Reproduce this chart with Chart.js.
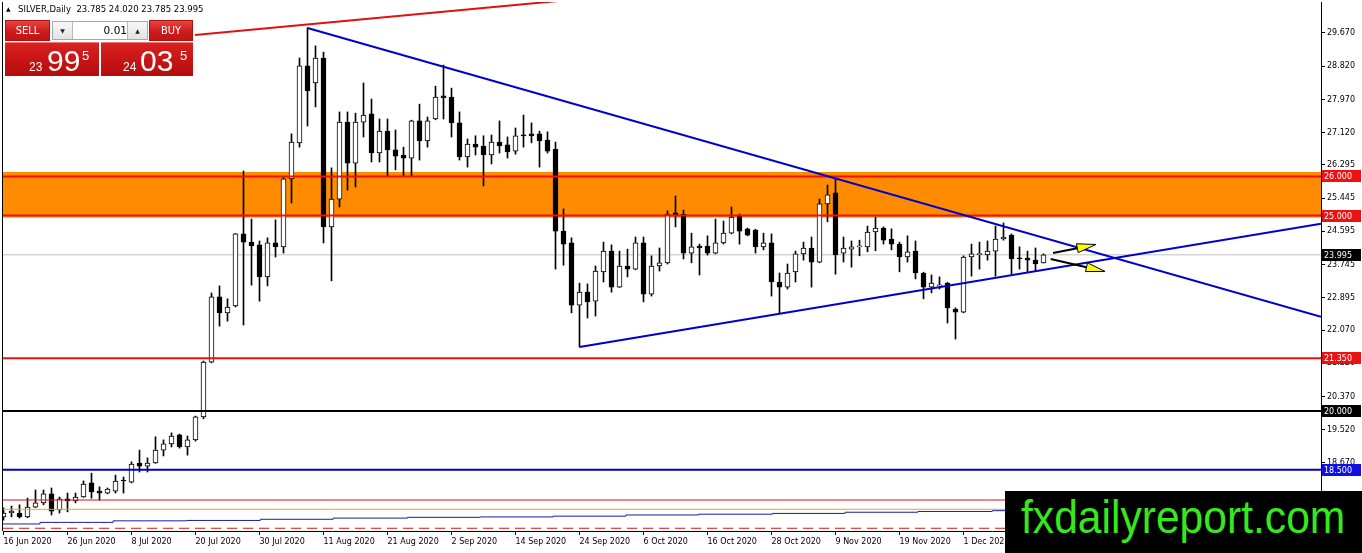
<!DOCTYPE html>
<html><head><meta charset="utf-8">
<script src="https://cdn.jsdelivr.net/npm/chart.js@4.4.0/dist/chart.umd.min.js"></script>
<style>
html,body{margin:0;padding:0;background:#fff;}
#wrap{position:relative;width:1362px;height:553px;overflow:hidden;background:#fff;}
canvas{position:absolute;left:0;top:0;}
#tri{position:absolute;left:6px;top:6px;font:6px 'DejaVu Sans',sans-serif;color:#000;line-height:6px;}
#title{position:absolute;left:18px;top:4px;font:8.5px 'DejaVu Sans',sans-serif;color:#000;white-space:pre;line-height:11px;}
.btn{position:absolute;top:20px;height:21px;background:linear-gradient(#e8453f,#cc1c1c 55%,#c21515);color:#fff;font:11px 'DejaVu Sans Condensed',sans-serif;display:flex;align-items:center;justify-content:center;box-sizing:border-box;border:1px solid #b01010;}
#sell{left:5px;width:45px;}
#buy{left:149px;width:44px;}
#lot{position:absolute;left:52px;top:21px;width:96px;height:19px;box-sizing:border-box;border:1px solid #a8a8a8;background:#fff;}
.arr{position:absolute;top:0;width:19px;height:17px;background:linear-gradient(#f8f8f8,#e2e2e2);font:6px 'DejaVu Sans',sans-serif;color:#222;display:flex;align-items:center;justify-content:center;}
#dn{left:0;border-right:1px solid #b8b8b8;}
#up{right:0;border-left:1px solid #b8b8b8;}
#lotv{position:absolute;left:20px;width:54px;top:0;height:17px;text-align:right;font:10.5px 'DejaVu Sans',sans-serif;line-height:17px;color:#000;}
.big{position:absolute;top:42px;height:34px;background:linear-gradient(#d92222,#c81515 50%,#b30d0d);color:#fff;font-family:'Liberation Sans',Arial,sans-serif;border-top:1px solid #e77;box-sizing:border-box;}
#bigsell{left:5px;width:94px;}
#bigbuy{left:101px;width:92px;}
.big span{position:absolute;line-height:1;white-space:pre;}
.s1{font-size:12px;}
.s2{font-size:30px;}
.s3{font-size:13px;}
#wm{position:absolute;left:1005px;top:491px;width:357px;height:62px;background:#000;}
#wm span{position:absolute;left:16px;top:3px;font:46px 'Liberation Sans',Arial,sans-serif;line-height:46px;color:#36e81c;white-space:pre;transform:scaleX(0.926);transform-origin:0 0;}
</style></head><body>
<div id="wrap">
<canvas id="c" width="1362" height="553"></canvas>
<div id="tri">▲</div>
<div id="title">SILVER,Daily  23.785 24.020 23.785 23.995</div>
<div class="btn" id="sell">SELL</div>
<div id="lot"><div class="arr" id="dn">▼</div><div id="lotv">0.01</div><div class="arr" id="up">▲</div></div>
<div class="btn" id="buy">BUY</div>
<div class="big" id="bigsell"><span class="s1" style="left:24px;top:18px">23</span><span class="s2" style="left:42px;top:3px">99</span><span class="s3" style="left:77px;top:6px">5</span></div>
<div class="big" id="bigbuy"><span class="s1" style="left:22px;top:18px">24</span><span class="s2" style="left:39px;top:3px">03</span><span class="s3" style="left:79px;top:6px">5</span></div>
<div id="wm"><span>fxdailyreport.com</span></div>
</div>
<script>
// ---------- data ----------
const tickLabels = ['16 Jun 2020','26 Jun 2020','8 Jul 2020','20 Jul 2020','30 Jul 2020','11 Aug 2020','21 Aug 2020','2 Sep 2020','14 Sep 2020','24 Sep 2020','6 Oct 2020','16 Oct 2020','28 Oct 2020','9 Nov 2020','19 Nov 2020','1 Dec 2020'];
const tickStep = 8; // trading days between date labels
const yTicks = [29.670, 28.820, 27.970, 27.120, 26.295, 25.445, 24.595, 23.745, 22.895, 22.070, 21.220, 20.370, 19.520, 18.670];

const opens = [
17.29,17.39,17.39,17.29,17.54,17.65,17.88,17.47,17.75,17.70,
17.80,18.16,17.95,17.90,17.95,18.235,18.18,18.67,18.59,18.67,
19.00,19.16,19.39,19.08,19.26,19.85,21.25,22.92,22.51,22.69,
24.53,24.32,24.25,23.43,24.30,24.20,25.94,26.86,28.83,28.39,
29.03,24.71,25.42,27.39,26.34,27.39,27.60,26.60,27.16,26.68,
26.55,26.47,27.42,26.91,27.47,28.06,28.03,27.37,26.50,26.83,
26.78,26.55,26.88,26.81,26.65,27.06,27.09,27.09,26.93,26.70,
24.60,24.30,22.71,23.04,22.81,23.56,24.09,23.17,23.71,23.63,
24.30,22.99,23.71,23.79,25.07,25.04,24.04,24.22,24.22,24.04,
24.30,24.55,24.99,24.66,24.63,24.20,24.30,23.30,23.17,23.56,
24.02,24.17,23.81,25.30,25.58,24.04,24.14,24.20,24.20,24.58,
24.68,24.40,24.27,23.94,24.09,23.53,23.17,23.20,23.27,22.61,
22.53,23.94,24.00,23.99,24.09,24.40,24.50,23.91,23.91,23.86,
23.785];
const highs = [
17.52,17.57,17.60,17.77,17.98,17.98,18.03,17.80,17.90,17.90,
18.21,18.41,18.06,18.03,18.36,18.31,18.70,19.00,18.80,19.34,
19.26,19.44,19.41,19.36,19.87,21.28,23.02,23.20,22.87,24.54,
26.14,24.91,24.35,24.43,24.89,25.99,27.09,29.03,29.80,29.34,
29.18,26.22,27.65,27.65,27.62,28.39,27.98,27.47,27.47,27.19,
26.75,27.44,27.85,27.52,28.31,28.85,28.26,27.65,26.96,27.04,
27.04,27.06,27.42,27.01,27.24,27.57,27.37,27.16,27.14,26.88,
25.17,24.43,23.27,23.25,23.71,24.32,24.25,24.09,24.14,24.45,
24.45,23.97,24.17,25.12,25.50,25.14,24.55,24.27,24.48,24.91,
24.86,25.22,25.04,24.68,24.65,24.55,24.53,23.53,23.76,24.09,
24.32,24.45,25.42,25.78,25.94,24.45,24.35,24.37,24.73,24.96,
24.71,24.66,24.32,24.48,24.35,23.55,23.48,23.43,23.29,22.64,
23.97,24.27,24.32,24.35,24.73,24.81,24.53,24.20,24.09,24.17,
24.020];
const lows = [
17.21,17.29,17.26,17.27,17.53,17.60,17.34,17.39,17.42,17.65,
17.79,17.77,17.72,17.88,17.90,17.90,18.16,18.44,18.44,18.66,
18.85,19.08,19.05,18.87,19.23,19.80,21.23,22.17,22.30,22.66,
22.20,23.22,22.81,23.20,23.94,24.04,25.32,26.75,27.29,27.78,
24.30,23.33,25.22,25.65,25.73,27.01,26.37,26.37,26.01,26.17,
26.01,26.01,26.42,26.75,27.45,27.47,27.01,26.42,26.24,26.55,
25.76,26.32,26.60,26.47,26.57,26.75,26.86,26.24,26.60,23.63,
23.73,22.51,21.64,22.38,22.43,23.30,23.04,23.16,23.43,23.61,
22.79,22.94,23.58,23.76,24.71,23.89,23.79,23.48,23.99,24.02,
24.27,24.53,24.27,24.48,24.04,24.12,22.94,22.51,23.12,23.30,
23.86,23.17,23.79,24.84,23.50,23.81,23.68,23.97,24.07,24.10,
24.27,24.12,23.56,23.81,23.38,22.87,23.02,23.12,22.25,21.84,
22.51,23.45,23.63,23.86,23.45,24.37,23.50,23.63,23.56,23.58,
23.785];
const closes = [
17.39,17.44,17.29,17.54,17.65,17.88,17.44,17.75,17.70,17.80,
18.13,17.93,17.90,18.00,18.21,18.21,18.64,18.59,18.67,19.00,
19.16,19.36,19.08,19.26,19.85,21.25,22.92,22.51,22.66,24.53,
24.32,24.22,23.43,24.30,24.20,25.94,26.88,28.83,28.19,29.03,
24.71,25.42,27.39,26.34,27.39,27.57,26.60,27.16,26.68,26.52,
26.47,27.42,26.91,27.42,28.03,28.01,27.37,26.50,26.83,26.75,
26.55,26.88,26.78,26.63,27.04,27.04,27.04,26.91,26.65,24.60,
24.27,22.71,23.04,22.79,23.58,24.09,23.17,23.71,23.63,24.30,
22.99,23.71,23.79,25.04,25.01,24.04,24.20,24.17,24.04,24.30,
24.55,24.96,24.60,24.50,24.20,24.30,23.30,23.17,23.53,24.02,
24.17,23.81,25.30,25.53,23.99,24.17,24.20,24.20,24.58,24.68,
24.37,24.27,23.94,24.07,23.53,23.17,23.27,23.20,22.64,22.53,
23.94,24.02,24.02,24.09,24.40,24.45,23.89,23.89,23.86,23.76,
23.995];

// horizontal levels
const zoneTop = 26.114, zoneBottom = 24.95;          // orange rectangle
const redLevels = [26.000, 25.000, 21.350];
const blackLevel = 20.000;
const blueLevel = 18.500;
const bidPrice = 23.995;
const thinRedLevel = 17.723;
const goldLevel = 17.485;
const dashedRedLevel = 17.000;
// stepped blue line (segment starts in bar index, value)
const stepIdx = [-0.06, 4.56, 13.7, 22.9, 32.1, 41.2, 50.5, 59.6, 68.7, 77.8, 86.9, 96.1, 105.2, 114.3, 123.6, 164.69];
const stepVal = [17.11, 17.15, 17.19, 17.20, 17.23, 17.26, 17.28, 17.29, 17.31, 17.34, 17.36, 17.38, 17.41, 17.43, 17.45, 17.45];
// trendlines: [index, price] pairs
const trendDown = [[38, 29.80], [164.69, 22.41]];
const trendUp = [[72, 21.637], [164.69, 24.79]];
const trendRed = [[23.94, 29.62], [74.6, 30.59]];
// arrows: [fromIdx, fromPrice, toIdx, toPrice]
const arrows = [[131.19, 24.04, 136.56, 24.26], [130.9, 23.89, 137.69, 23.57]];
// price tags on the axis
const priceTags = [
  {v: 26.000, bg: '#ee1111'}, {v: 25.000, bg: '#ee1111'}, {v: 23.995, bg: '#000000'},
  {v: 21.350, bg: '#ee1111'}, {v: 20.000, bg: '#000000'}, {v: 18.500, bg: '#1010e0'}
];

// ---------- chart ----------
const X_MIN = -0.0625, X_MAX = 164.6875;
const Y_MIN = 16.930, Y_MAX = 30.463;
const idx = opens.map((_, i) => i);
const hline = (v) => [{x: X_MIN, y: v}, {x: X_MAX, y: v}];
const lineDs = (data, color, width, order, extra) => Object.assign({
  type: 'line', data, borderColor: color, borderWidth: width, pointRadius: 0, tension: 0, fill: false, order
}, extra || {});

const datasets = [
  lineDs(hline(zoneTop), 'rgba(0,0,0,0)', 0, 100, {fill: {value: zoneBottom}, backgroundColor: '#ff8c00'}),
  lineDs(hline(bidPrice), '#c0c0c0', 1, 90),
  {type: 'bar', data: idx.map(i => ({x: i, y: [lows[i], highs[i]]})), backgroundColor: '#000', borderWidth: 0,
   barThickness: 1, grouped: false, order: 50, clip: 0},
  {type: 'bar', data: idx.map(i => ({x: i, y: [opens[i], closes[i]]})),
   backgroundColor: idx.map(i => closes[i] >= opens[i] ? '#ffffff' : '#000000'),
   borderColor: '#000', borderWidth: 1, borderSkipped: false, barThickness: 5, minBarLength: 1,
   grouped: false, order: 40, clip: 0},
  ...redLevels.map(v => lineDs(hline(v), '#ee1111', 2, 10)),
  lineDs(hline(blackLevel), '#000000', 2, 10),
  lineDs(hline(blueLevel), '#0000cd', 2, 10),
  lineDs(hline(thinRedLevel), '#dd1111', 1, 10),
  lineDs(hline(goldLevel), '#e0a828', 1, 10),
  lineDs(hline(dashedRedLevel), '#dd1111', 1, 10, {borderDash: [10, 6]}),
  lineDs(stepIdx.map((x, k) => ({x, y: stepVal[k]})), '#1a1aa8', 1, 10, {stepped: true}),
  lineDs(trendDown.map(p => ({x: p[0], y: p[1]})), '#0000cd', 2, 5),
  lineDs(trendUp.map(p => ({x: p[0], y: p[1]})), '#0000cd', 2, 5),
  lineDs(trendRed.map(p => ({x: p[0], y: p[1]})), '#e01010', 2, 5),
];

const extrasPlugin = {
  id: 'extras',
  afterDatasetsDraw(chart) {
    const {ctx, scales: {x, y}} = chart;
    arrows.forEach(a => {
      const x0 = x.getPixelForValue(a[0]), y0 = y.getPixelForValue(a[1]);
      const x1 = x.getPixelForValue(a[2]), y1 = y.getPixelForValue(a[3]);
      const ang = Math.atan2(y1 - y0, x1 - x0), L = 19, W = 4.5;
      const bx = x1 - L * Math.cos(ang), by = y1 - L * Math.sin(ang);
      ctx.save();
      ctx.strokeStyle = '#000'; ctx.lineWidth = 2;
      ctx.beginPath(); ctx.moveTo(x0, y0); ctx.lineTo(bx, by); ctx.stroke();
      ctx.beginPath();
      ctx.moveTo(x1, y1);
      ctx.lineTo(bx + W * Math.sin(ang), by - W * Math.cos(ang));
      ctx.lineTo(bx - W * Math.sin(ang), by + W * Math.cos(ang));
      ctx.closePath();
      ctx.fillStyle = '#ffff00'; ctx.fill();
      ctx.lineWidth = 1; ctx.strokeStyle = '#000'; ctx.stroke();
      ctx.restore();
    });
  },
  afterDraw(chart) {
    const {ctx, chartArea, scales: {y}} = chart;
    ctx.save();
    ctx.fillStyle = '#000';
    ctx.fillRect(chartArea.left - 1, chartArea.top, 1, chartArea.bottom - chartArea.top);
    ctx.font = "8px 'DejaVu Sans', sans-serif";
    ctx.textBaseline = 'middle';
    ctx.textAlign = 'left';
    priceTags.forEach(t => {
      const py = Math.round(y.getPixelForValue(t.v));
      ctx.fillStyle = t.bg;
      ctx.fillRect(y.left + 1, py - 6, 39, 12);
      ctx.fillStyle = '#fff';
      ctx.fillText(t.v.toFixed(3), y.left + 3, py + 0.5);
    });
    ctx.restore();
  }
};

new Chart(document.getElementById('c'), {
  type: 'bar',
  data: {datasets},
  plugins: [extrasPlugin],
  options: {
    responsive: false, animation: false, devicePixelRatio: 1,
    layout: {padding: {left: 3, top: 2, right: 0, bottom: 0}},
    plugins: {legend: {display: false}, tooltip: {enabled: false}, title: {display: false}},
    scales: {
      x: {
        type: 'linear', min: X_MIN, max: X_MAX, offset: false,
        grid: {display: true, drawOnChartArea: false, drawTicks: true, tickLength: 4, color: '#000', offset: false},
        border: {display: true, color: '#000', width: 1},
        afterBuildTicks: (s) => { s.ticks = tickLabels.map((_, k) => ({value: k * tickStep})); },
        ticks: {autoSkip: false, maxRotation: 0, align: 'start', padding: 2, color: '#000',
          font: {family: "'DejaVu Sans', sans-serif", size: 8},
          callback: (v, i) => tickLabels[i]},
        afterFit: (s) => { s.height = 22; s.paddingLeft = 0; s.paddingRight = 0; }
      },
      y: {
        type: 'linear', position: 'right', min: Y_MIN, max: Y_MAX,
        grid: {display: true, drawOnChartArea: false, drawTicks: true, tickLength: 4, color: '#000'},
        border: {display: true, color: '#000', width: 1},
        afterBuildTicks: (s) => { s.ticks = yTicks.map(v => ({value: v})); },
        ticks: {padding: 2, color: '#000', font: {family: "'DejaVu Sans', sans-serif", size: 8},
          callback: (v) => Number(v).toFixed(3)},
        afterFit: (s) => { s.width = 41; s.paddingTop = 0; s.paddingBottom = 0; }
      }
    }
  }
});
</script>
</body></html>
